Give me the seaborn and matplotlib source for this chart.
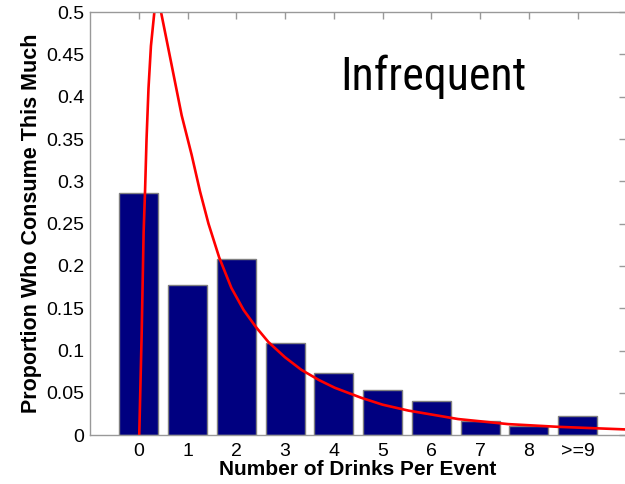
import matplotlib
matplotlib.use("Agg")
import matplotlib.pyplot as plt
import seaborn as sns
import pandas as pd
from matplotlib import font_manager

categories = ["0", "1", "2", "3", "4", "5", "6", "7", "8", ">=9"]
proportions = [0.286, 0.178, 0.208, 0.109, 0.074, 0.053, 0.040, 0.017, 0.011, 0.023]

curve_x = [0.01, 0.06, 0.10, 0.13, 0.16, 0.20, 0.25, 0.32, 0.39, 0.457, 0.676, 0.88,
           1.086, 1.257, 1.43, 1.65, 1.90, 2.15, 2.40, 2.66, 3.0, 3.34, 3.7, 4.02,
           4.57, 5.0, 5.53, 6.55, 7.58, 8.6, 10.0]
curve_y = [0.0, 0.12, 0.24, 0.29, 0.35, 0.41, 0.46, 0.50, 0.515, 0.50, 0.437, 0.378,
           0.331, 0.288, 0.25, 0.210, 0.174, 0.148, 0.128, 0.110, 0.092, 0.077, 0.065,
           0.056, 0.044, 0.036, 0.029, 0.019, 0.013, 0.0098, 0.0067]

title_text = "Infrequent"
xlabel = "Number of Drinks Per Event"
ylabel = "Proportion Who Consume This Much"
yticks = [0, 0.05, 0.1, 0.15, 0.2, 0.25, 0.3, 0.35, 0.4, 0.45, 0.5]
ytick_labels = ["0", "0.05", "0.1", "0.15", "0.2", "0.25", "0.3", "0.35", "0.4", "0.45", "0.5"]

sns.set_style("white")
plt.rcParams["font.family"] = ["Liberation Sans", "DejaVu Sans"]
plt.rcParams["text.color"] = "black"
plt.rcParams["axes.labelcolor"] = "black"
plt.rcParams["xtick.color"] = "black"
plt.rcParams["ytick.color"] = "black"

fig = plt.figure(figsize=(6.25, 4.84), dpi=100)
ax = fig.add_axes([0.144, 0.101, 0.858, 0.874])

df = pd.DataFrame({"pos": list(range(len(categories))), "prop": proportions})
sns.barplot(data=df, x="pos", y="prop", color="#000080", saturation=1,
            width=0.8, edgecolor="#808080", linewidth=1.0, ax=ax)

cdf = pd.DataFrame({"x": curve_x, "y": curve_y})
sns.lineplot(data=cdf, x="x", y="y", sort=False, estimator=None, color="red",
             linewidth=1.9, ax=ax)

ax.set_xlim(-1, 10)
ax.set_ylim(0, 0.5)
ax.set_xticks(range(len(categories)))
ax.set_xticklabels(categories)
ax.set_yticks(yticks)
ax.set_yticklabels(ytick_labels)
ax.tick_params(axis="both", direction="in", length=5, width=1, color="#999999",
               labelsize=14, top=True, right=True, pad=4, labelcolor="black")
ax.tick_params(axis="x", pad=6)
for s in ax.spines.values():
    s.set_color("#999999")
    s.set_linewidth(1)

ax.set_xlabel(xlabel, fontsize=15, fontweight="bold", labelpad=0, color="black")
ax.set_ylabel(ylabel, fontsize=15.5, fontweight="bold", labelpad=3, color="black")

narrow = None
pref = ["Liberation Sans Narrow", "Arial Narrow", "DejaVu Sans Condensed",
        "Roboto Condensed", "Open Sans Condensed", "Noto Sans Condensed"]
names = {f.name for f in font_manager.fontManager.ttflist}
for p in pref:
    if p in names:
        narrow = p
        break
if narrow is None:
    for f in font_manager.fontManager.ttflist:
        if ("Narrow" in f.name or "Condensed" in f.name) and f.weight in (400, "normal", "regular"):
            narrow = f.name
            break
if narrow is not None:
    ax.text(0.64, 0.846, title_text, transform=ax.transAxes, ha="center", va="center",
            fontsize=33, family=[narrow, "DejaVu Sans"], color="black")
else:
    ax.text(0.64, 0.846, title_text, transform=ax.transAxes, ha="center", va="center",
            fontsize=28, family=["Liberation Sans", "DejaVu Sans"], color="black")

fig.savefig("out.png", dpi=100)
